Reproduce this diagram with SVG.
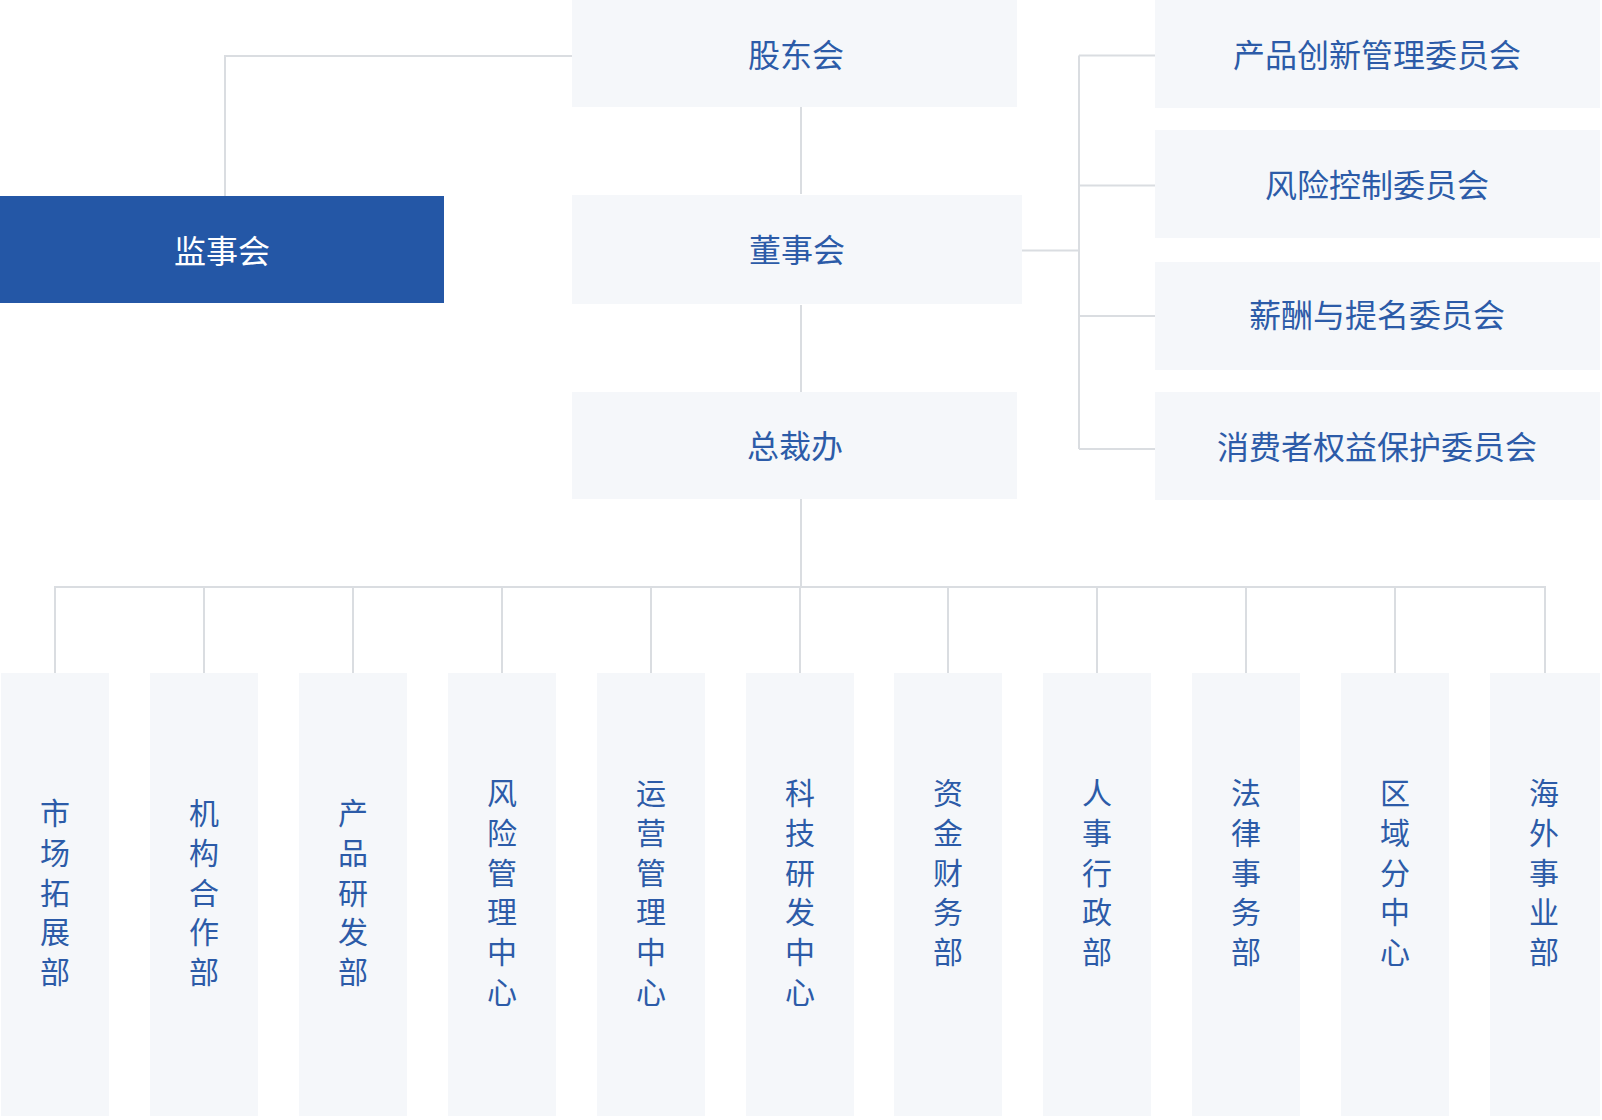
<svg xmlns="http://www.w3.org/2000/svg" width="1602" height="1120" viewBox="0 0 1602 1120">
<style>
.box{fill:#f5f7fa}
.main{fill:#2457a6}
.ln{stroke:#dadde1;stroke-width:2;fill:none}
.t{font-family:"Noto Sans CJK SC","Noto Sans",sans-serif;font-size:32px;fill:#2c5ba8;text-anchor:middle;dominant-baseline:central}
.w{fill:#ffffff}
.v{font-family:"Noto Sans CJK SC","Noto Sans",sans-serif;font-size:30px;fill:#2c5ba8;text-anchor:middle;writing-mode:vertical-rl;letter-spacing:9.7px}
</style>
<rect width="1602" height="1120" fill="#ffffff"/>
<g id="connectors">
<path class="ln" d="M572 56 H225 V196"/>
<path class="ln" d="M801 107 V194"/>
<path class="ln" d="M801 305 V392"/>
<path class="ln" d="M1022 250.5 H1079"/>
<path class="ln" d="M1079 55.5 V449"/>
<path class="ln" d="M1079 55.5 H1155 M1079 185.5 H1155 M1079 316 H1155 M1079 449 H1155"/>
<path class="ln" d="M801 499 V587"/>
<path class="ln" d="M55 673 V587 H1545 V673"/>
<path class="ln" d="M204 587 V673 M353 587 V673 M502 587 V673 M651 587 V673 M800 587 V673 M948 587 V673 M1097 587 V673 M1246 587 V673 M1395 587 V673"/>
</g>
<g id="n-jianshihui"><rect class="main" x="0" y="196" width="444" height="107"/><text class="t w" x="222" y="249">监事会</text></g>
<g id="n-gudonghui"><rect class="box" x="572" y="0" width="445" height="107"/><text class="t" x="796" y="53">股东会</text></g>
<g id="n-dongshihui"><rect class="box" x="572" y="195" width="450" height="109"/><text class="t" x="797" y="248">董事会</text></g>
<g id="n-zongcaiban"><rect class="box" x="572" y="392" width="445" height="107"/><text class="t" x="795" y="444">总裁办</text></g>
<g id="n-c1"><rect class="box" x="1155" y="0" width="445" height="108"/><text class="t" x="1377" y="53">产品创新管理委员会</text></g>
<g id="n-c2"><rect class="box" x="1155" y="130" width="445" height="108"/><text class="t" x="1377" y="183">风险控制委员会</text></g>
<g id="n-c3"><rect class="box" x="1155" y="262" width="445" height="108"/><text class="t" x="1377" y="313">薪酬与提名委员会</text></g>
<g id="n-c4"><rect class="box" x="1155" y="392" width="445" height="108"/><text class="t" x="1377" y="445">消费者权益保护委员会</text></g>
<g id="n-d0"><rect class="box" x="1" y="673" width="108" height="443"/><text class="v" x="55" y="897">市场拓展部</text></g>
<g id="n-d1"><rect class="box" x="150" y="673" width="108" height="443"/><text class="v" x="204" y="897">机构合作部</text></g>
<g id="n-d2"><rect class="box" x="299" y="673" width="108" height="443"/><text class="v" x="353" y="897">产品研发部</text></g>
<g id="n-d3"><rect class="box" x="448" y="673" width="108" height="443"/><text class="v" x="502" y="897">风险管理中心</text></g>
<g id="n-d4"><rect class="box" x="597" y="673" width="108" height="443"/><text class="v" x="651" y="897">运营管理中心</text></g>
<g id="n-d5"><rect class="box" x="746" y="673" width="108" height="443"/><text class="v" x="800" y="897">科技研发中心</text></g>
<g id="n-d6"><rect class="box" x="894" y="673" width="108" height="443"/><text class="v" x="948" y="877">资金财务部</text></g>
<g id="n-d7"><rect class="box" x="1043" y="673" width="108" height="443"/><text class="v" x="1097" y="877">人事行政部</text></g>
<g id="n-d8"><rect class="box" x="1192" y="673" width="108" height="443"/><text class="v" x="1246" y="877">法律事务部</text></g>
<g id="n-d9"><rect class="box" x="1341" y="673" width="108" height="443"/><text class="v" x="1395" y="877">区域分中心</text></g>
<g id="n-d10"><rect class="box" x="1490" y="673" width="110" height="443"/><text class="v" x="1544" y="877">海外事业部</text></g>
</svg>
